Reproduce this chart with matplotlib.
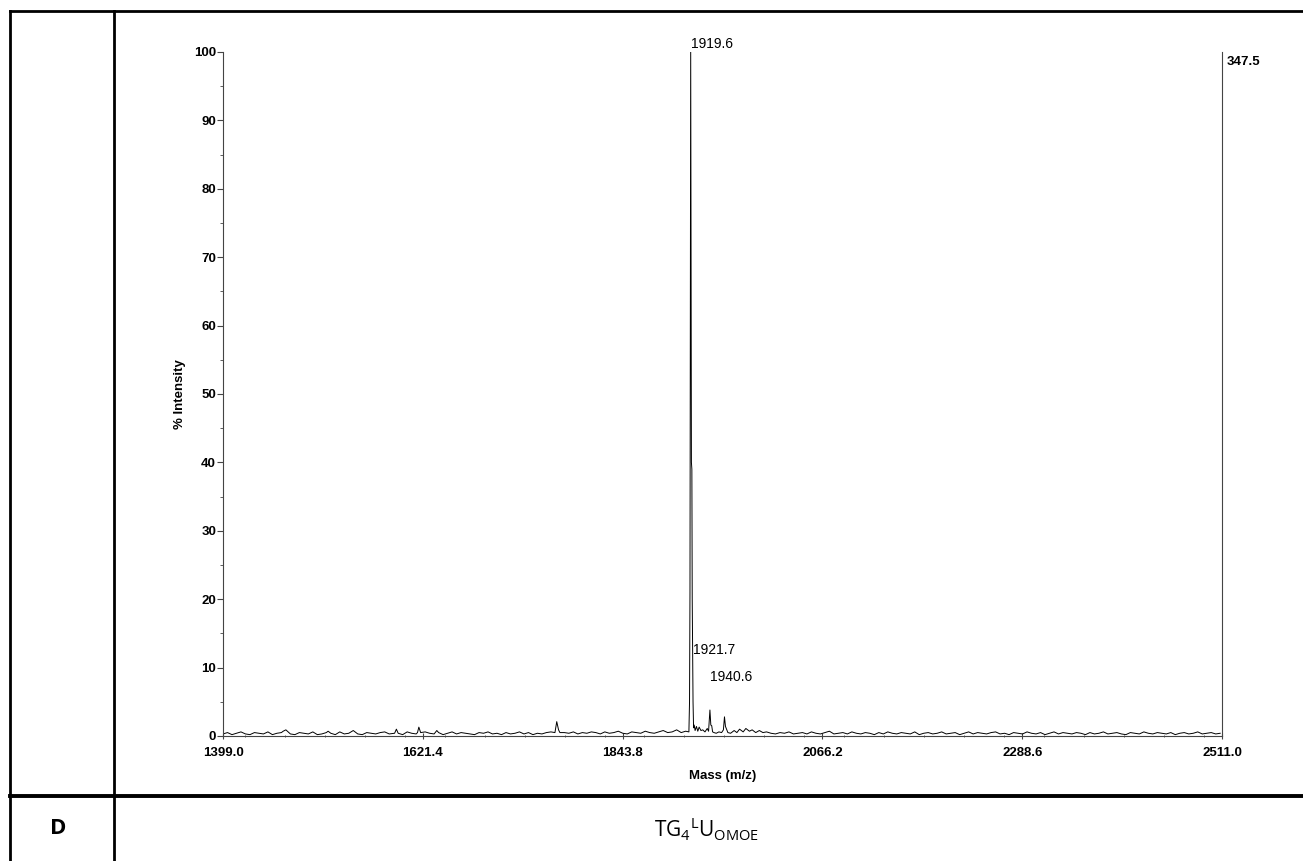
import numpy as np
import matplotlib
matplotlib.use("Agg")
import matplotlib.pyplot as plt
from matplotlib.ticker import MultipleLocator

# ---------------- data ----------------
x_ticks = [1399.0, 1621.4, 1843.8, 2066.2, 2288.6, 2511.0]
x_tick_labels = ["1399.0", "1621.4", "1843.8", "2066.2", "2288.6", "2511.0"]
y_ticks = [0, 10, 20, 30, 40, 50, 60, 70, 80, 90, 100]

# baseline noise (every 5 Da from 1399), read by eye
noise_start = 1399.0
noise_step = 5.0
noise_vals = [
    0.3, 0.5, 0.2, 0.4, 0.6, 0.3, 0.2, 0.5, 0.4, 0.3, 0.6, 0.2, 0.4, 0.5, 0.9, 0.3,
    0.2, 0.5, 0.4, 0.3, 0.6, 0.2, 0.3, 0.5, 0.4, 0.2, 0.6, 0.3, 0.4, 0.8, 0.3, 0.2,
    0.5, 0.4, 0.3, 0.5, 0.6, 0.3, 0.4, 0.5, 0.2, 0.6, 0.4, 0.3, 0.5, 0.6, 0.4, 0.3,
    0.5, 0.2, 0.4, 0.6, 0.3, 0.5, 0.4, 0.3, 0.2, 0.5, 0.4, 0.6, 0.3, 0.4, 0.2, 0.5,
    0.3, 0.4, 0.6, 0.3, 0.5, 0.2, 0.4, 0.3, 0.5, 0.6, 0.4, 0.3, 0.5, 0.4, 0.6, 0.3,
    0.5, 0.4, 0.6, 0.5, 0.3, 0.6, 0.4, 0.5, 0.7, 0.4, 0.3, 0.6, 0.5, 0.4, 0.7, 0.5,
    0.4, 0.6, 0.8, 0.5, 0.6, 0.9, 0.5, 0.7, 0.6, 0.4, 0.8, 0.5, 0.6, 1.0, 0.5, 0.4,
    0.7, 0.5, 0.6, 0.4, 0.5, 0.7, 0.4, 0.3, 0.5, 0.6, 0.4, 0.3, 0.5, 0.4, 0.6, 0.3,
    0.4, 0.5, 0.3, 0.6, 0.4, 0.3, 0.5, 0.7, 0.3, 0.4, 0.5, 0.3, 0.6, 0.4, 0.3, 0.5,
    0.4, 0.2, 0.5, 0.3, 0.6, 0.4, 0.3, 0.5, 0.4, 0.3, 0.6, 0.2, 0.4, 0.5, 0.3, 0.4,
    0.6, 0.3, 0.4, 0.5, 0.2, 0.4, 0.6, 0.3, 0.5, 0.4, 0.3, 0.5, 0.6, 0.3, 0.4, 0.2,
    0.5, 0.4, 0.3, 0.6, 0.4, 0.3, 0.5, 0.2, 0.4, 0.6, 0.3, 0.5, 0.4, 0.3, 0.5, 0.4,
    0.2, 0.5, 0.3, 0.4, 0.6, 0.3, 0.4, 0.5, 0.3, 0.2, 0.5, 0.4, 0.3, 0.6, 0.4, 0.3,
    0.5, 0.4, 0.3, 0.5, 0.2, 0.4, 0.5, 0.3, 0.4, 0.6, 0.3, 0.4, 0.5, 0.3, 0.4,
]

# peak profile points (mass, % intensity)
peak_mass = [1466.0, 1516.0, 1590.0, 1592.0, 1594.0, 1615.5, 1617.0, 1619.0, 1637.0,
             1768.5, 1770.5, 1772.5, 1774.0,
             1917.6, 1918.3, 1918.8, 1919.2, 1919.6, 1920.0, 1920.4, 1920.9, 1921.3,
             1921.7, 1922.2, 1922.8, 1923.5, 1924.5, 1926.0, 1927.5, 1929.0, 1931.0,
             1933.0, 1935.5, 1938.0, 1939.5, 1941.0, 1942.0, 1943.0, 1944.0, 1945.5,
             1948.0, 1951.0, 1954.0, 1956.0, 1957.2, 1958.3, 1959.5, 1961.0, 1964.0,
             1968.0, 1971.0, 1974.0, 1978.0, 1981.0, 1985.0, 1988.0, 1992.0, 1996.0,
             2000.0]
peak_int = [0.7, 0.7, 0.4, 1.0, 0.4, 0.5, 1.3, 0.5, 0.8,
            0.5, 2.1, 0.9, 0.5,
            0.6, 5.0, 21.0, 60.0, 100.0, 70.0, 40.0, 39.0, 20.0,
            13.0, 5.0, 1.2, 1.6, 0.8, 1.4, 0.7, 1.3, 0.8,
            0.9, 0.6, 1.1, 0.7, 3.8, 1.6, 1.5, 0.6, 0.5,
            0.4, 0.6, 0.5, 0.9, 2.8, 1.4, 1.0, 0.5, 0.4,
            0.8, 0.5, 1.0, 0.6, 1.1, 0.7, 0.9, 0.5, 0.8,
            0.5]

peak_labels = [("1919.6", 1919.6, 100.2), ("1921.7", 1921.3, 12.6), ("1940.6", 1941.0, 8.6)]
max_count_label = "347.5"

panel_letter = "D"
panel_title = r"$\mathrm{TG_4{}^L U_{OMOE}}$"

# ---------------- build trace ----------------
nm = noise_start + noise_step * np.arange(len(noise_vals))
nv = np.asarray(noise_vals)
pm = np.asarray(peak_mass)
pi = np.asarray(peak_int)
keep = np.ones(len(nm), bool)
for a, b in [(1588, 1596), (1614, 1621), (1767, 1776), (1916, 2001)]:
    keep &= ~((nm > a) & (nm < b))
mass = np.concatenate([nm[keep], pm])
inten = np.concatenate([nv[keep], pi])
order = np.argsort(mass)
mass, inten = mass[order], inten[order]

# ---------------- figure ----------------
plt.rcParams['mathtext.fontset'] = 'custom'
plt.rcParams['mathtext.rm'] = 'Open Sans'
plt.rcParams['mathtext.it'] = 'Open Sans'

fig = plt.figure(figsize=(13.03, 8.61), dpi=100)

W, H = 1303.0, 861.0
lw_tab = 2.0
fig.add_artist(plt.Line2D([9.5 / W, 1.0], [1 - 11 / H, 1 - 11 / H], color='black', lw=lw_tab, transform=fig.transFigure))
fig.add_artist(plt.Line2D([9.5 / W, 1.0], [1 - 796 / H, 1 - 796 / H], color='black', lw=lw_tab + 0.8, transform=fig.transFigure))
fig.add_artist(plt.Line2D([9.5 / W, 9.5 / W], [0, 1 - 11 / H], color='black', lw=lw_tab, transform=fig.transFigure))
fig.add_artist(plt.Line2D([114 / W, 114 / W], [0, 1 - 11 / H], color='black', lw=lw_tab, transform=fig.transFigure))

ax = fig.add_axes([223 / W, 1 - 736 / H, (1222 - 223) / W, (736 - 52) / H])
ax.plot(mass, inten, color='black', lw=0.7)
ax.set_xlim(x_ticks[0], x_ticks[-1])
ax.set_ylim(0, 100)

ax.spines['top'].set_visible(False)
for s in ['left', 'bottom', 'right']:
    ax.spines[s].set_color('#444444')
    ax.spines[s].set_linewidth(0.8)

tick_font = dict(family='Liberation Sans', weight='bold', size=9.5)
ax.set_xticks(x_ticks)
ax.set_xticklabels(x_tick_labels, **tick_font)
ax.set_yticks(y_ticks)
ax.set_yticklabels([str(v) for v in y_ticks], **tick_font)
ax.xaxis.set_minor_locator(MultipleLocator(44.48))
ax.yaxis.set_minor_locator(MultipleLocator(5))
ax.tick_params(axis='y', which='major', length=4, width=0.8, color='#444444', pad=1, direction='out')
ax.tick_params(axis='y', which='minor', length=2, width=0.6, color='#444444', direction='out')
ax.tick_params(axis='x', which='major', length=4, width=0.8, color='#444444', pad=6, direction='inout')
ax.tick_params(axis='x', which='minor', length=2, width=0.6, color='#444444', direction='inout')
ax.tick_params(axis='y', which='both', right=False)

ax.set_xlabel("Mass (m/z)", family='Liberation Sans', weight='bold', size=9.5, labelpad=8)
ax.set_ylabel("% Intensity", family='Liberation Sans', weight='bold', size=9.5, labelpad=6)

for txt, xm, yv in peak_labels:
    ax.text(xm + 0.5, yv, txt, family='Liberation Sans', size=10, ha='left',
            va='center' if yv < 99 else 'bottom')

ax.text(1.005, 0.985, max_count_label, transform=ax.transAxes, family='Liberation Sans',
        weight='bold', size=9.5, ha='left', va='center')

fig.text(58 / W, 1 - 829 / H, panel_letter, family='Open Sans', weight='bold', size=16, ha='center', va='center')
fig.text(706 / W, 1 - 829 / H, panel_title, size=15, ha='center', va='center')

fig.savefig("out.png", dpi=100)
